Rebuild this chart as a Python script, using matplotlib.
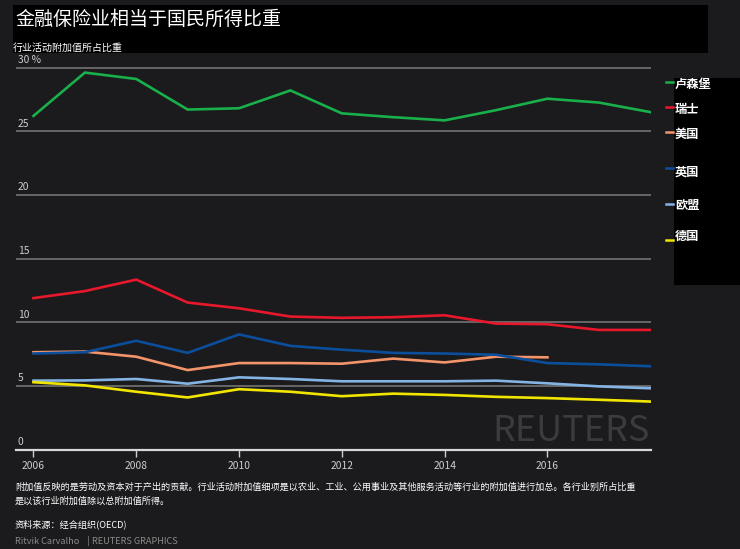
import matplotlib
matplotlib.use("Agg")
import matplotlib.pyplot as plt
from matplotlib.patches import Rectangle
import matplotlib.transforms as mtransforms

plt.rcParams["font.family"] = ["Noto Sans CJK SC", "DejaVu Sans"]

years = list(range(2006, 2019))
years_us = list(range(2006, 2017))

luxembourg = [26.2, 29.6, 29.1, 26.7, 26.8, 28.2, 26.4, 26.1, 25.85, 26.65, 27.55, 27.25, 26.5]
switzerland = [11.9, 12.45, 13.35, 11.55, 11.1, 10.45, 10.35, 10.4, 10.55, 9.9, 9.85, 9.4, 9.4]
usa = [7.65, 7.7, 7.3, 6.25, 6.8, 6.8, 6.75, 7.15, 6.85, 7.3, 7.25]
uk = [7.55, 7.65, 8.55, 7.6, 9.05, 8.15, 7.85, 7.6, 7.55, 7.45, 6.8, 6.7, 6.55]
eu = [5.42, 5.44, 5.55, 5.18, 5.68, 5.55, 5.37, 5.37, 5.37, 5.42, 5.21, 4.97, 4.82]
germany = [5.3, 5.05, 4.55, 4.1, 4.75, 4.55, 4.2, 4.4, 4.3, 4.15, 4.05, 3.92, 3.78]

legend_labels = ["卢森堡", "瑞士", "美国", "英国", "欧盟", "德国"]
colors = ["#19b04b", "#e8182c", "#f4946a", "#0b4f9c", "#84b4e4", "#f2e600"]
y_ticks = [0, 5, 10, 15, 20, 25, 30]
x_ticks = [2006, 2008, 2010, 2012, 2014, 2016]

W, H = 740, 549
bg = "#1b1a1d"
fig = plt.figure(figsize=(W / 100, H / 100), dpi=100, facecolor=bg)


def fx(px):
    return px / W


def fy(py):
    return 1 - py / H


# title block
fig.patches.append(Rectangle((fx(13), fy(53)), fx(708) - fx(13), fy(5) - fy(53),
                             transform=fig.transFigure, facecolor="black", edgecolor="none", zorder=0))
fig.text(fx(15), fy(19), "金融保险业相当于国民所得比重", color="white", fontsize=13.7,
         va="center", ha="left")
fig.text(fx(13), fy(48), "行业活动附加值所占比重", color="white", fontsize=7.2,
         va="center", ha="left")

# plot area
x0, x1 = 2005.66, 2018.02
y_top = 31
top_px = 449.7 - y_top * 12.74
ax = fig.add_axes([fx(16), fy(449.7), fx(651) - fx(16) + 0.0003, fy(top_px) - fy(449.7)])
ax.set_facecolor(bg)
ax.set_xlim(x0, x1)
ax.set_ylim(0, y_top)
for s in ax.spines.values():
    s.set_visible(False)

trans = mtransforms.blended_transform_factory(ax.transAxes, ax.transData)
for v in y_ticks:
    if v == 0:
        ax.axhline(v, color="#d8d8d8", lw=1.6, zorder=1, clip_on=False)
    else:
        ax.axhline(v, color="#6c6c6c", lw=1.3, zorder=1)
    lab = "30 %" if v == 30 else str(v)
    ax.text(0.003, v + 0.2, lab, transform=trans, color="#cfcfcf", fontsize=7.4,
            ha="left", va="bottom")

series = [(years, luxembourg), (years, switzerland), (years_us, usa),
          (years, uk), (years, eu), (years, germany)]
for (xs, ys), c in zip(series, colors):
    ax.plot(xs, ys, color=c, lw=1.9, zorder=3, solid_joinstyle="miter")

ax.set_yticks([])
ax.set_xticks(x_ticks)
ax.set_xticklabels([str(t) for t in x_ticks])
ax.tick_params(axis="x", colors="#cfcfcf", labelcolor="#cfcfcf", labelsize=7.4,
               length=5, width=1, pad=3, direction="out")

# watermark
ax.text(2014.93, 1.5, "REUTERS", color="#3b3a3e", fontsize=26, fontweight="medium",
        ha="left", va="center", zorder=0)

# legend block
fig.patches.append(Rectangle((fx(674), fy(285)), fx(740) - fx(674), fy(78) - fy(285),
                             transform=fig.transFigure, facecolor="black", edgecolor="none", zorder=0))
leg_y = [84, 109, 134, 172, 205, 236]
mark_y = [82, 107, 132, 168, 204, 240]
for lab, c, ly, my in zip(legend_labels, colors, leg_y, mark_y):
    fig.lines.append(plt.Line2D([fx(666), fx(673)], [fy(my), fy(my)], color=c, lw=1.8,
                                transform=fig.transFigure))
    fig.text(fx(675), fy(ly), lab, color="white", fontsize=8.8, fontweight="bold",
             va="center", ha="left")

# footer
fig.text(fx(15), fy(487), "附加值反映的是劳动及资本对于产出的贡献。行业活动附加值细项是以农业、工业、公用事业及其他服务活动等行业的附加值进行加总。各行业别所占比重",
         color="white", fontsize=6.6, va="center", ha="left")
fig.text(fx(15), fy(501), "是以该行业附加值除以总附加值所得。", color="white", fontsize=6.6,
         va="center", ha="left")
fig.text(fx(15), fy(524), "资料来源：经合组织(OECD)", color="white", fontsize=6.6,
         va="center", ha="left")
fig.text(fx(15), fy(541), "Ritvik Carvalho    | REUTERS GRAPHICS", color="#8a8a8a",
         fontsize=6.6, va="center", ha="left")

fig.savefig("out.png", dpi=100, facecolor=bg)
